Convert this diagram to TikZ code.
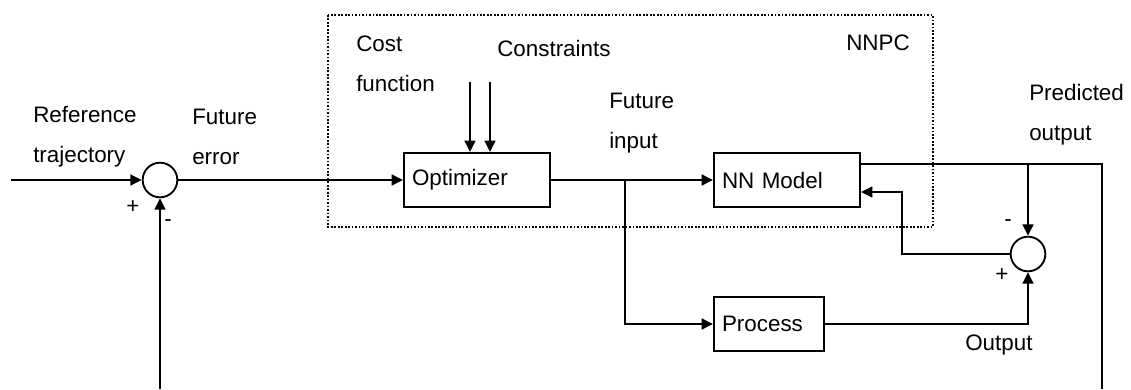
\documentclass[tikz,border=0pt]{standalone}
\usepackage{fontspec}
\setmainfont{Liberation Sans}
\usetikzlibrary{arrows.meta}

\tikzset{
  blk/.style={draw, line width=1.5pt, minimum height=40.5pt, inner xsep=6pt, align=left,
    font=\fontsize{16.8}{20}\selectfont},
  sumnode/.style={draw, circle, line width=1.4pt, minimum size=26pt, inner sep=0pt},
  sig/.style={line width=1.8pt, -{Triangle[length=8.5pt,width=8pt]}},
  wire/.style={line width=1.8pt},
  lbl/.style={anchor=west, align=left, inner sep=0pt, font=\fontsize{16.8}{30}\selectfont}
}

\begin{document}
\begin{tikzpicture}[x=0.75pt, y=-0.75pt]
\useasboundingbox (0,0) rectangle (1131,389);

\draw[line width=1.3pt, dash pattern=on 1.3pt off 1.3pt] (328,15) rectangle (933,227);

\node[sumnode] (sum1) at (160,180) {};
\node[blk, text width=97.5pt] (opt) at (477,180) {Optimizer};
\node[blk, text width=97.5pt] (nn) at (787,180) {NN Model};
\node[blk, text width=70.5pt] (proc) at (769,324) {Process};
\node[sumnode] (sum2) at (1028,254) {};

\node[lbl] (ref) at (33,137) {Reference\\trajectory};
\node[lbl] (err) at (192,137) {Future\\error};
\node[lbl] (cost) at (356,64) {Cost\\function};
\node[lbl] (cons) at (497,48) {Constraints};
\node[lbl] (nnpc) at (846,43) {NNPC};
\node[lbl] (fin) at (609,123) {Future\\input};
\node[lbl] (pout) at (1029,115) {Predicted\\output};
\node[lbl] (yout) at (965,345) {Output};

\node[lbl] (p1) at (126,207) {+};
\node[lbl] (m1) at (164,223) {-};
\node[lbl] (m2) at (1004,223) {-};
\node[lbl] (p2) at (995,275) {+};

\coordinate (in) at (11,180);
\coordinate (cf) at (470,82);
\coordinate (cs) at (490,82);
\coordinate (br) at (625,180);
\coordinate (yp) at ([yshift=12pt]nn.east);
\coordinate (fbl) at (160,389);
\coordinate (fbr) at (1102,389);

\draw[sig] (in) -- (sum1.west);
\draw[sig] (fbl) -- (sum1.south);
\draw[sig] (sum1.east) -- (opt.west);
\draw[sig] (cf) -- (cf |- opt.north);
\draw[sig] (cs) -- (cs |- opt.north);
\draw[sig] (opt.east) -- (nn.west);
\draw[sig] (br) |- (proc.west);
\draw[wire] (yp) -| (fbr);
\draw[sig] (yp -| sum2) -- (sum2.north);
\draw[sig] (proc.east) -| (sum2.south);
\draw[sig] (sum2.west) -- ++(-81pt,0) |- ([yshift=-9pt]nn.east);
\end{tikzpicture}
\end{document}
